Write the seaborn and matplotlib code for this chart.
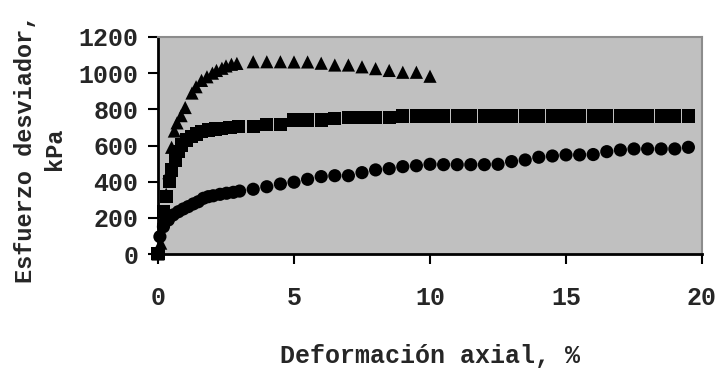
import seaborn as sns
import matplotlib.pyplot as plt
import pandas as pd

# triangulos
tri_x = [0, 0.1, 0.2, 0.3, 0.4, 0.5, 0.6, 0.7, 0.85, 1.0, 1.25, 1.4, 1.6, 1.8, 2.0,
         2.15, 2.35, 2.5, 2.7, 2.9, 3.5, 4.0, 4.5, 5.0, 5.5, 6.0, 6.5, 7.0, 7.5,
         8.0, 8.5, 9.0, 9.5, 10.0]
tri_y = [0, 60, 200, 330, 450, 590, 680, 725, 765, 810, 890, 925, 960, 980, 1000,
         1015, 1027, 1040, 1049, 1054, 1063, 1063, 1063, 1062, 1062, 1055, 1045,
         1045, 1035, 1025, 1015, 1005, 1005, 983]

# cuadrados
sq_x = [0, 0.2, 0.32, 0.42, 0.5, 0.63, 0.75, 0.87, 1.05, 1.24, 1.42, 1.6, 1.85,
        2.1, 2.34, 2.65, 2.95, 3.5, 4.0, 4.5, 5.0, 5.5, 6.0, 6.5, 7.0, 7.5, 8.0,
        8.5, 9.0, 9.5, 10.0, 10.5, 11.0, 11.5, 12.0, 12.5, 13.0, 13.5, 14.0, 14.5,
        15.0, 15.5, 16.0, 16.5, 17.0, 17.5, 18.0, 18.5, 19.0, 19.5]
sq_y = [5, 234, 317, 400, 465, 520, 566, 603, 630, 649, 664, 676, 686,
        691, 695, 699, 704, 704, 717, 717, 741, 741, 741, 750, 756, 756, 756,
        756, 763, 763, 763, 763, 763, 763, 763, 763, 763, 763, 763, 763,
        763, 763, 763, 763, 763, 763, 763, 763, 763, 763]

# circulos
ci_x = [0.07, 0.2, 0.38, 0.56, 0.75, 0.93, 1.11, 1.3, 1.48, 1.67, 1.85, 2.03,
        2.28, 2.52, 2.77, 3.0, 3.5, 4.0, 4.5, 5.0, 5.5, 6.0, 6.5, 7.0, 7.5, 8.0,
        8.5, 9.0, 9.5, 10.0, 10.5, 11.0, 11.5, 12.0, 12.5, 13.0, 13.5, 14.0, 14.5,
        15.0, 15.5, 16.0, 16.5, 17.0, 17.5, 18.0, 18.5, 19.0, 19.5]
ci_y = [96, 151, 188, 216, 234, 249, 262, 277, 289, 308, 317, 322,
        330, 336, 341, 348, 358, 372, 387, 397, 413, 428, 433, 433, 450, 465,
        472, 483, 488, 496, 494, 494, 494, 494, 496, 511, 520, 535, 542,
        548, 548, 550, 566, 575, 581, 581, 581, 581, 590]

df = pd.concat([
    pd.DataFrame({"x": tri_x, "y": tri_y, "serie": "t"}),
    pd.DataFrame({"x": sq_x, "y": sq_y, "serie": "s"}),
    pd.DataFrame({"x": ci_x, "y": ci_y, "serie": "c"}),
])

sns.set_style("ticks")
plt.rcParams["font.family"] = ["Liberation Mono", "DejaVu Sans Mono"]
plt.rcParams["font.weight"] = "bold"
fs = 18

fig = plt.figure(figsize=(7.17, 3.69), dpi=100)
ax = fig.add_axes([158 / 717, 1 - 254 / 369, 544 / 717, 217 / 369])
ax.set_facecolor("#c0c0c0")

sns.scatterplot(data=df, x="x", y="y", style="serie",
                markers={"t": "^", "s": "s", "c": "o"},
                color="black", s=90, edgecolor="none", legend=False, ax=ax,
                clip_on=False, zorder=3)

ax.set_xlim(0, 20)
ax.set_ylim(0, 1200)
ax.set_xticks([0, 5, 10, 15, 20])
ax.set_yticks(range(0, 1201, 200))
ax.tick_params(axis="both", direction="out", length=7, width=1.5,
               labelsize=fs, color="black")
ax.tick_params(axis="x", pad=16)
ax.tick_params(axis="y", pad=7)
for lab in ax.get_xticklabels() + ax.get_yticklabels():
    lab.set_fontweight("bold")

for side in ["left", "bottom"]:
    ax.spines[side].set_color("black")
    ax.spines[side].set_linewidth(2)
for side in ["top", "right"]:
    ax.spines[side].set_visible(True)
    ax.spines[side].set_color("#8c8c8c")
    ax.spines[side].set_linewidth(1.5)

ax.set_xlabel("")
ax.set_ylabel("")
fig.text(430 / 717, 1 - 356 / 369, "Deformación axial, %", ha="center",
         va="center", fontsize=fs, fontweight="bold")
fig.text(40 / 717, 1 - 149 / 369, "Esfuerzo desviador,\nkPa", ha="center",
         va="center", rotation=90, fontsize=17, fontweight="bold",
         multialignment="center", linespacing=1.35)

fig.savefig("out.png", dpi=100)
